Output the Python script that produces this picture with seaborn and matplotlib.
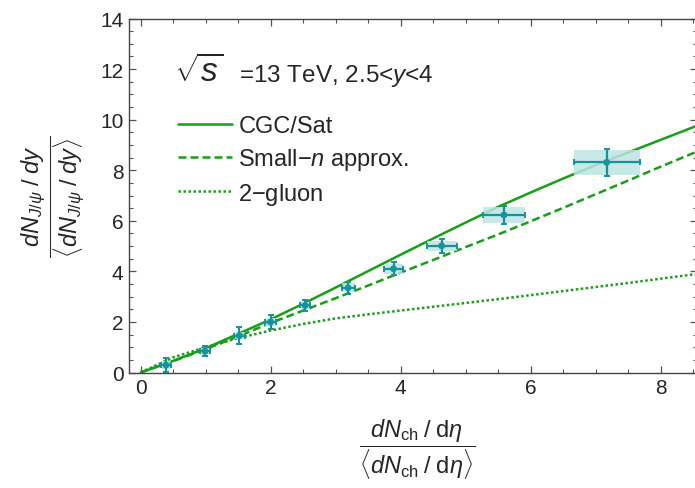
import numpy as np
import pandas as pd
import seaborn as sns
import matplotlib.pyplot as plt
from matplotlib.patches import Rectangle
from matplotlib.ticker import MultipleLocator

# theory curves
x_curve = [0, 0.5, 1, 1.5, 2, 2.5, 3, 3.5, 4, 4.5, 5, 5.5, 6, 6.5, 7, 7.5, 8, 8.6]
y_cgc = [0, 0.46, 0.96, 1.53, 2.10, 2.72, 3.36, 4.01, 4.66, 5.30, 5.93, 6.55, 7.12, 7.67, 8.20, 8.70, 9.20, 9.80]
y_smalln = [0, 0.45, 0.92, 1.43, 1.96, 2.45, 2.94, 3.44, 3.95, 4.45, 4.96, 5.46, 5.98, 6.51, 7.05, 7.59, 8.14, 8.78]
y_2gluon = [0, 0.60, 1.00, 1.36, 1.66, 1.92, 2.14, 2.30, 2.45, 2.60, 2.75, 2.90, 3.06, 3.22, 3.38, 3.54, 3.71, 3.91]

# data points
x_data = [0.39, 0.99, 1.52, 2.00, 2.53, 3.19, 3.89, 4.63, 5.59, 7.17]
y_data = [0.29, 0.84, 1.46, 2.00, 2.65, 3.35, 4.10, 5.01, 6.23, 8.31]
x_err = [0.08, 0.08, 0.08, 0.08, 0.08, 0.10, 0.15, 0.23, 0.33, 0.51]
y_err = [0.28, 0.20, 0.33, 0.29, 0.20, 0.23, 0.26, 0.28, 0.36, 0.54]
y_sys = [0.15, 0.12, 0.15, 0.15, 0.15, 0.18, 0.20, 0.20, 0.33, 0.50]

labels = ["CGC/Sat", r"Small$-n$ approx.", r"2$-$gluon"]
green = "#17a017"
teal = "#16939a"

sns.set_style("ticks")
plt.rcParams["font.family"] = ["Liberation Sans", "DejaVu Sans"]
plt.rcParams["mathtext.fontset"] = "custom"
plt.rcParams["mathtext.rm"] = "Liberation Sans"
plt.rcParams["mathtext.it"] = "Liberation Sans:italic"
plt.rcParams["mathtext.bf"] = "Liberation Sans:bold"

fig = plt.figure(figsize=(6.95, 4.89), dpi=100)
ax = fig.add_axes([129 / 695, 1 - 373.5 / 489, (697 - 129) / 695, (373.5 - 19.5) / 489])

df = pd.DataFrame({
    "x": x_curve * 3,
    "y": y_cgc + y_smalln + y_2gluon,
    "model": [labels[0]] * len(x_curve) + [labels[1]] * len(x_curve) + [labels[2]] * len(x_curve),
})
styles = {labels[0]: "-", labels[1]: (0, (3.2, 1.6)), labels[2]: (0, (1.0, 1.0))}
for name, g in df.groupby("model", sort=False):
    sns.lineplot(data=g, x="x", y="y", ax=ax, color=green, lw=1.8,
                 linestyle=styles[name], label=name)

# systematic boxes
for xi, yi, xe, ys in zip(x_data, y_data, x_err, y_sys):
    ax.add_patch(Rectangle((xi - xe, yi - ys), 2 * xe, 2 * ys,
                           facecolor="#bfe3e3", edgecolor="none", alpha=0.85, zorder=3))
ax.errorbar(x_data, y_data, xerr=x_err, yerr=y_err, fmt="none", ecolor=teal,
            elinewidth=1.6, capsize=2.5, capthick=1.4, zorder=4)
sns.scatterplot(x=x_data, y=y_data, ax=ax, color=teal, s=24, edgecolor="none", zorder=5)

ax.set_xlim(-0.18, 8.56)
ax.set_ylim(0, 14)
ax.xaxis.set_major_locator(MultipleLocator(2))
ax.xaxis.set_minor_locator(MultipleLocator(0.5))
ax.yaxis.set_major_locator(MultipleLocator(2))
ax.yaxis.set_minor_locator(MultipleLocator(0.5))
ax.tick_params(which="both", direction="in", top=True, right=True, color="#555555",
               labelsize=15, pad=4)
ax.tick_params(which="major", length=5, width=0.9)
ax.tick_params(which="minor", length=3, width=0.8)
for s in ax.spines.values():
    s.set_color("#444444")
    s.set_linewidth(1.0)

ax.set_xlabel(r"$\dfrac{dN_{\mathrm{ch}}\;/\;\mathrm{d}\eta}{\langle dN_{\mathrm{ch}}\;/\;\mathrm{d}\eta\rangle}$",
              fontsize=17, va="center")
ax.xaxis.set_label_coords(0.508, -0.215)
ax.set_ylabel(r"$\dfrac{dN_{J/\psi}\;/\;dy}{\langle dN_{J/\psi}\;/\;dy\rangle}$",
              fontsize=17, va="center")
ax.yaxis.set_label_coords(-0.133, 0.5)

ax.text(0.080, 0.823, r"$\sqrt{s}$", transform=ax.transAxes,
        fontsize=24, va="baseline", ha="left")
ax.text(0.193, 0.823, r"=13 TeV, 2.5<$y$<4", transform=ax.transAxes,
        fontsize=17.5, va="baseline", ha="left")

leg = ax.legend(loc="upper left", bbox_to_anchor=(0.0866, 0.727), frameon=False,
                fontsize=17, handlelength=2.3, handletextpad=0.25, labelspacing=0.37,
                borderpad=0, borderaxespad=0)

fig.savefig("out.png", dpi=100)
